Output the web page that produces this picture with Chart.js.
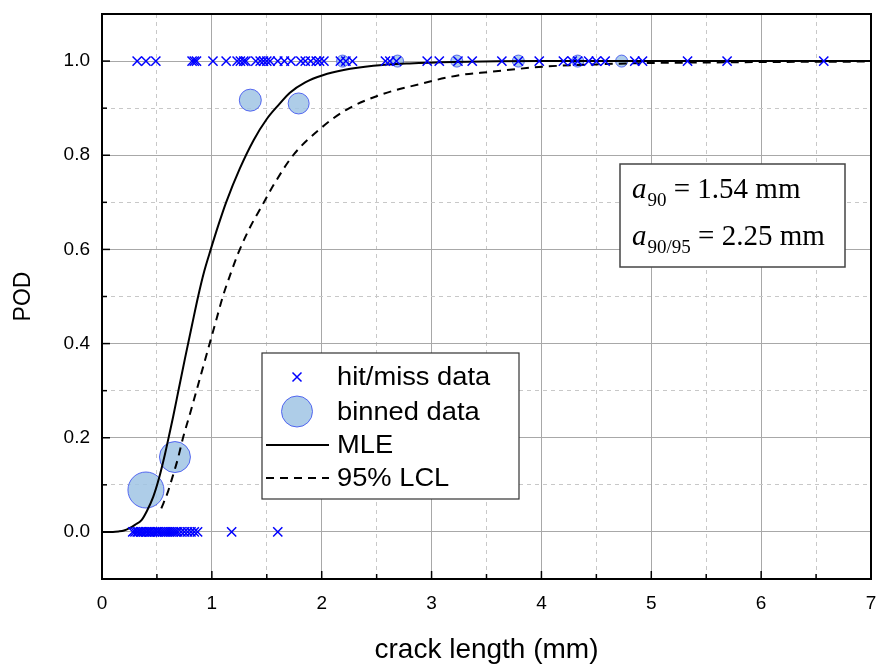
<!DOCTYPE html>
<html><head><meta charset="utf-8">
<script src="https://cdn.jsdelivr.net/npm/chart.js@4"></script>
<style>html,body{margin:0;padding:0;background:#fff;}canvas{display:block;}</style>
</head><body>
<canvas id="c" width="879" height="664"></canvas>
<script>
// ---- data ----
const xTickLabels = ['0','1','2','3','4','5','6','7'];
const yTickLabels = ['0.0','0.2','0.4','0.6','0.8','1.0'];

// hit/miss data: crack lengths detected (POD=1) and missed (POD=0)
const hitX = [0.32,0.40,0.49,0.82,0.84,0.86,1.01,1.13,1.23,1.26,1.29,1.31,1.40,1.44,1.47,1.50,1.53,
  1.60,1.66,1.72,1.81,1.85,1.90,1.95,1.98,2.02,2.17,2.22,2.28,2.58,2.62,2.68,2.96,3.07,3.24,3.37,
  3.64,3.79,3.98,4.20,4.28,4.33,4.43,4.50,4.58,4.85,4.92,5.33,5.69,6.57];
const missX = [0.28,0.30,0.32,0.33,0.35,0.36,0.38,0.40,0.41,0.43,0.44,0.46,0.48,0.50,0.51,0.53,
  0.55,0.57,0.59,0.61,0.63,0.65,0.67,0.69,0.72,0.75,0.78,0.81,0.84,0.87,1.18,1.60];

// binned data
const binX = [0.40,0.664,1.35,1.79,2.19,2.69,3.23,3.79,4.33,4.73];
const binY = [0.089,0.159,0.917,0.910,1.0,1.0,1.0,1.0,1.0,1.0];

// MLE curve
const mleX = [0,0.10,0.15,0.20,0.25,0.30,0.36,0.41,0.467,0.52,0.573,0.62,0.648,0.70,0.755,0.82,0.875,
  0.93,0.99,1.06,1.13,1.255,1.38,1.50,1.60,1.71,1.85,2.01,2.20,2.47,2.80,3.20,4.00,5.00,7.00];
const mleY = [0,0,0.001,0.003,0.008,0.015,0.025,0.045,0.075,0.115,0.165,0.215,0.245,0.305,0.368,0.44,0.50,
  0.553,0.60,0.652,0.70,0.772,0.832,0.877,0.905,0.933,0.955,0.970,0.981,0.990,0.995,0.998,1.0,1.0,1.0];

// 95% lower confidence limit curve
const lclX = [0.54,0.60,0.633,0.69,0.74,0.80,0.86,0.92,0.98,1.04,1.10,1.17,1.24,1.35,1.45,1.57,
  1.74,1.98,2.22,2.53,2.89,3.25,3.53,4.01,4.50,5.00,5.50,6.00,7.00];
const lclY = [0.05,0.085,0.11,0.155,0.202,0.25,0.30,0.35,0.40,0.45,0.50,0.548,0.592,0.648,0.69,0.74,
  0.80,0.855,0.896,0.928,0.951,0.970,0.977,0.988,0.993,0.996,0.997,0.998,0.999];

// ---- build ----
const pts = (xs, ys) => xs.map((x, i) => ({x: x, y: ys[i]}));
const hitMissData = hitX.map(x => ({x: x, y: 1})).concat(missX.map(x => ({x: x, y: 0})));

const CROSS = '#0000ff';
const BIN_FILL = 'rgba(160,196,228,0.85)';
const BIN_EDGE = 'rgba(70,90,240,0.9)';
const SANS = '"Liberation Sans", Arial, sans-serif';
const SERIF = '"Liberation Serif", "Times New Roman", serif';

function isInt(v) { return Math.abs(v - Math.round(v)) < 1e-6; }

const decorPlugin = {
  id: 'decor',
  afterDraw(chart) {
    const ctx = chart.ctx;
    const a = chart.chartArea;
    const xs = chart.scales.x, ys = chart.scales.y;
    ctx.save();
    // inward ticks
    ctx.strokeStyle = '#000';
    ctx.lineWidth = 1.5;
    xs.ticks.forEach(t => {
      const px = xs.getPixelForValue(t.value);
      const len = isInt(t.value) ? 8 : 5;
      ctx.beginPath(); ctx.moveTo(px, a.bottom); ctx.lineTo(px, a.bottom - len); ctx.stroke();
    });
    ys.ticks.forEach(t => {
      const py = ys.getPixelForValue(t.value);
      const k = Math.round(t.value * 10);
      const len = (k % 2 === 0) ? 8 : 5;
      ctx.beginPath(); ctx.moveTo(a.left, py); ctx.lineTo(a.left + len, py); ctx.stroke();
    });
    // frame
    ctx.lineWidth = 2;
    ctx.strokeRect(a.left, a.top, a.right - a.left, a.bottom - a.top);

    // legend box
    const lx = a.left + 160, ly = a.top + 339, lw = 257, lh = 146;
    ctx.fillStyle = '#fff';
    ctx.fillRect(lx, ly, lw, lh);
    ctx.strokeStyle = '#333'; ctx.lineWidth = 1.2;
    ctx.strokeRect(lx, ly, lw, lh);
    const symX = lx + 35, txtX = lx + 75;
    const rows = [ly + 24, ly + 58.5, ly + 92, ly + 125];
    // cross
    ctx.strokeStyle = CROSS; ctx.lineWidth = 1.5;
    const c = 4.5;
    ctx.beginPath();
    ctx.moveTo(symX - c, rows[0] - c); ctx.lineTo(symX + c, rows[0] + c);
    ctx.moveTo(symX + c, rows[0] - c); ctx.lineTo(symX - c, rows[0] + c);
    ctx.stroke();
    // circle
    ctx.beginPath(); ctx.arc(symX, rows[1], 15.5, 0, Math.PI * 2);
    ctx.fillStyle = BIN_FILL; ctx.fill();
    ctx.strokeStyle = BIN_EDGE; ctx.lineWidth = 1; ctx.stroke();
    // lines
    ctx.strokeStyle = '#000'; ctx.lineWidth = 2;
    ctx.beginPath(); ctx.moveTo(lx + 4, rows[2]); ctx.lineTo(lx + 67, rows[2]); ctx.stroke();
    ctx.setLineDash([8, 6]);
    ctx.beginPath(); ctx.moveTo(lx + 4, rows[3]); ctx.lineTo(lx + 67, rows[3]); ctx.stroke();
    ctx.setLineDash([]);
    ctx.fillStyle = '#000';
    ctx.font = '26px ' + SANS;
    ctx.textBaseline = 'middle'; ctx.textAlign = 'left';
    const names = chart.data.datasets.map(d => d.label);
    [names[0], names[3], names[1], names[2]].forEach((n, i) => {
      ctx.save(); ctx.translate(txtX, rows[i] + 1); ctx.scale(1.05, 1);
      ctx.fillText(n, 0, 0); ctx.restore();
    });

    // annotation box
    const bx = a.left + 518, by = a.top + 150, bw = 225, bh = 103;
    ctx.fillStyle = '#fff'; ctx.fillRect(bx, by, bw, bh);
    ctx.strokeStyle = '#444'; ctx.lineWidth = 1.5; ctx.strokeRect(bx, by, bw, bh);
    ctx.fillStyle = '#000'; ctx.textBaseline = 'alphabetic';
    const line = (sub, rest, base) => {
      let x = bx + 12;
      ctx.font = 'italic 29px ' + SERIF;
      ctx.fillText('a', x, base); x += ctx.measureText('a').width + 1;
      ctx.font = '19px ' + SERIF;
      ctx.fillText(sub, x, base + 8); x += ctx.measureText(sub).width;
      ctx.font = '29px ' + SERIF;
      ctx.fillText(rest, x, base);
    };
    line('90', ' = 1.54 mm', by + 34);
    line('90/95', ' = 2.25 mm', by + 81);
    ctx.restore();
  }
};

new Chart(document.getElementById('c'), {
  type: 'scatter',
  data: {
    datasets: [
      { label: 'hit/miss data', data: hitMissData, pointStyle: 'crossRot', pointRadius: 6.5,
        pointHoverRadius: 6.5, borderColor: CROSS, backgroundColor: CROSS, borderWidth: 1.5, order: 0 },
      { label: 'MLE', data: pts(mleX, mleY), showLine: true, borderColor: '#000', borderWidth: 2,
        pointRadius: 0, cubicInterpolationMode: 'monotone', tension: 0.4, order: 1 },
      { label: '95% LCL', data: pts(lclX, lclY), showLine: true, borderColor: '#000', borderWidth: 2,
        borderDash: [8, 6], pointRadius: 0, cubicInterpolationMode: 'monotone', tension: 0.4, order: 1 },
      { label: 'binned data', data: pts(binX, binY), pointStyle: 'circle',
        pointRadius: [18, 15.5, 11, 10.5, 6, 6, 6, 6, 6, 6], backgroundColor: BIN_FILL,
        borderColor: BIN_EDGE, borderWidth: 1, order: 2 }
    ]
  },
  options: {
    responsive: false, animation: false, devicePixelRatio: 1,
    layout: { autoPadding: false, padding: { left: 0, right: 8, top: 14, bottom: 0 } },
    plugins: { legend: { display: false }, tooltip: { enabled: false } },
    scales: {
      x: {
        type: 'linear', min: 0, max: 7,
        afterFit: s => { s.height = 85; s.paddingLeft = 0; s.paddingRight = 0; },
        ticks: { stepSize: 0.5, autoSkip: false, maxRotation: 0, padding: 13, color: '#000',
          font: { size: 19, family: SANS },
          callback: v => isInt(v) ? xTickLabels[Math.round(v)] : '' },
        grid: { drawTicks: false,
          color: c => { const v = c.tick ? c.tick.value : 0; if (v < 0.01 || v > 6.99) return 'rgba(0,0,0,0)';
            return isInt(v) ? '#a8a8a8' : '#c8c8c8'; },
          lineWidth: 1 },
        border: { color: '#000', width: 2, dash: c => (c.tick && !isInt(c.tick.value)) ? [4, 4] : [] },
        title: { display: true, text: 'crack length (mm)', color: '#000', padding: { top: 0, bottom: -3 },
          font: { size: 28, family: SANS } }
      },
      y: {
        type: 'linear', min: -0.1, max: 1.1,
        afterFit: s => { s.width = 102; s.paddingTop = 0; s.paddingBottom = 0; },
        ticks: { stepSize: 0.1, autoSkip: false, padding: 12, color: '#000',
          font: { size: 19, family: SANS },
          callback: v => { const k = Math.round(v * 10); return (k >= 0 && k <= 10 && k % 2 === 0) ? yTickLabels[k / 2] : ''; } },
        grid: { drawTicks: false,
          color: c => { if (!c.tick) return 'rgba(0,0,0,0)'; const k = Math.round(c.tick.value * 10);
            if (k < 0 || k > 10) return 'rgba(0,0,0,0)'; return (k % 2 === 0) ? '#a8a8a8' : '#c8c8c8'; },
          lineWidth: 1 },
        border: { color: '#000', width: 2, dash: c => (c.tick && Math.round(c.tick.value * 10) % 2 !== 0) ? [4, 4] : [] },
        title: { display: true, text: 'POD', color: '#000', padding: { top: 10, bottom: 0 },
          font: { size: 23, family: SANS } }
      }
    }
  },
  plugins: [decorPlugin]
});
</script>
</body></html>
